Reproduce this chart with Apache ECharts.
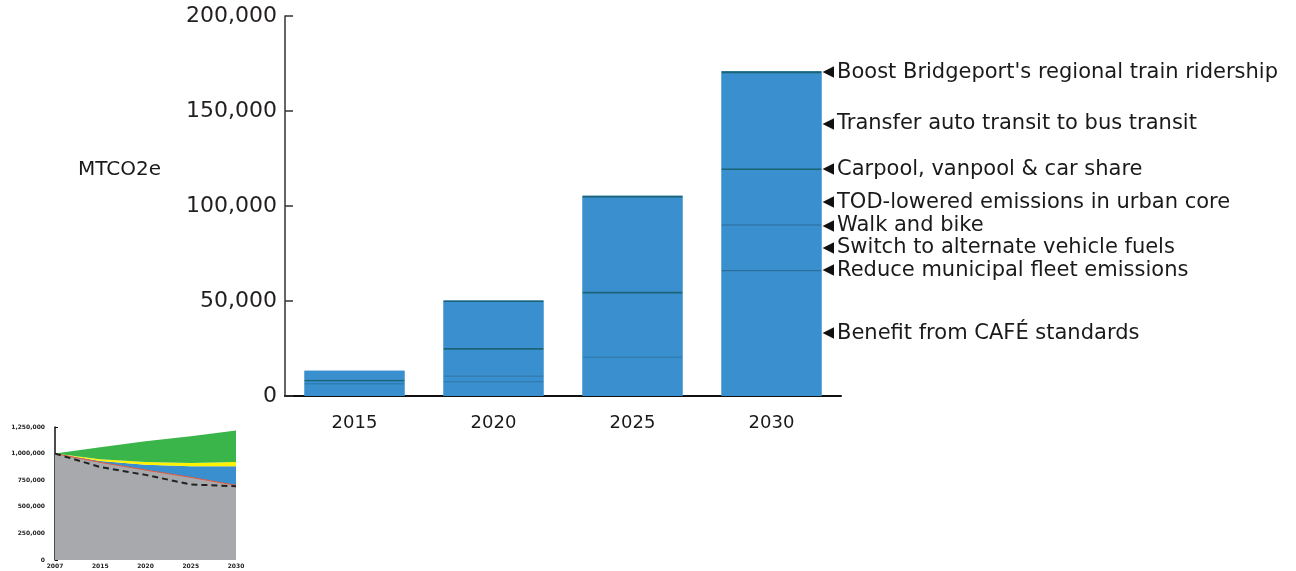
<!DOCTYPE html>
<html>
<head>
<meta charset="utf-8">
<script src="https://cdn.jsdelivr.net/npm/echarts@6/dist/echarts.min.js"></script>
<style>
html,body{margin:0;padding:0;background:#fff;}
#chart{width:1296px;height:571px;}
</style>
</head>
<body>
<div id="chart"></div>
<script>
// Main chart data (MTCO2e reductions, stacked bottom to top)
const years = ['2015', '2020', '2025', '2030'];
const seriesNames = [
  'Benefit from CAFÉ standards',
  'Reduce municipal fleet emissions',
  'Switch to alternate vehicle fuels',
  'Walk and bike',
  'TOD-lowered emissions in urban core',
  'Carpool, vanpool & car share',
  'Transfer auto transit to bus transit',
  "Boost Bridgeport's regional train ridership"
];
const cafe    = [6200, 7200, 20300, 65700];
const fleet   = [500, 500, 500, 600];
const fuels   = [1000, 2600, 17000, 23500];
const walk    = [0, 500, 0, 600];
const tod     = [0, 13500, 16200, 28500];
const carpool = [800, 1000, 1000, 1000];
const bus     = [4800, 24200, 49500, 50000];
const train   = [0, 800, 900, 1000];
const yTicks  = [0, 50000, 100000, 150000, 200000];

// Inset chart data (total emissions scenario)
const insetYears  = ['2007', '2015', '2020', '2025', '2030'];
const insetGrey   = [1000000, 918000, 846000, 777000, 702000];
const insetBlue   = [0, 12000, 50000, 103000, 178000];
const insetYellow = [0, 16000, 24000, 31000, 40000];
const insetGreen  = [0, 114000, 197000, 253000, 297000];
const insetDashed = [1000000, 874000, 800000, 710000, 693000];

const FONT = 'DejaVu Sans';
const BLUE = '#3a8fce';
const DARK = '#1b6478';
const MID = '#2a6f9c';

const seriesData = [cafe, fleet, fuels, walk, tod, carpool, bus, train];
const seriesColors = [BLUE, MID, BLUE, MID, BLUE, DARK, BLUE, DARK];
const labelOffsets = [[0,0],[0,0],[0,0],[0,1],[0,5],[0,0],[0,3],[0,0]];
const totals = years.map((_, j) => seriesData.reduce((s, arr) => s + arr[j], 0));

const barSeries = seriesNames.map((name, i) => ({
  name: name,
  type: 'bar',
  stack: 'total',
  xAxisIndex: 0,
  yAxisIndex: 0,
  barWidth: 100,
  barGap: '-100%',
  z: 3,
  itemStyle: { color: seriesColors[i], borderWidth: 0 },
  label: { show: false },
  data: seriesData[i].map((v, j) => {
    const val = v === 0 ? '-' : v;
    if (j === years.length - 1) {
      return {
        value: val,
        label: {
          show: true,
          position: 'right',
          distance: 1,
          offset: labelOffsets[i],
          formatter: '{t|◀}{s|' + name + '}',
          rich: {
            t: { fontSize: 15, color: '#111', fontFamily: FONT, padding: [0, 3, 0, 0] },
            s: { fontSize: 21, color: '#1a1a1a', fontFamily: FONT }
          }
        }
      };
    }
    return val;
  })
}));

// Backing column (sum of the stack) drawn behind the segments so no seams show
const backing = {
  name: 'Total',
  type: 'bar',
  xAxisIndex: 0,
  yAxisIndex: 0,
  barWidth: 100,
  barGap: '-100%',
  z: 1,
  silent: true,
  itemStyle: { color: BLUE },
  data: totals
};

const insetArea = (name, data, color, lineColor) => ({
  name: name,
  type: 'line',
  stack: 'inset',
  xAxisIndex: 1,
  yAxisIndex: 1,
  symbol: 'none',
  smooth: false,
  lineStyle: { width: lineColor ? 1 : 0, color: lineColor || color },
  areaStyle: { color: color, opacity: 1 },
  data: data
});

const option = {
  animation: false,
  backgroundColor: '#ffffff',
  title: {
    text: 'MTCO2e',
    left: 73,
    top: 155,
    textStyle: { fontFamily: FONT, fontSize: 20, fontWeight: 'normal', color: '#1a1a1a' }
  },
  grid: [
    { left: 285, top: 16, width: 556, height: 380, containLabel: false },
    { left: 55, top: 427, width: 181, height: 133, containLabel: false }
  ],
  xAxis: [
    {
      type: 'category',
      gridIndex: 0,
      data: years,
      axisLine: { lineStyle: { color: '#111', width: 2 } },
      axisTick: { show: false },
      axisLabel: { fontFamily: FONT, fontSize: 18, color: '#1a1a1a', margin: 18 }
    },
    {
      type: 'category',
      gridIndex: 1,
      data: insetYears,
      boundaryGap: false,
      axisLine: { show: false },
      axisTick: { show: false },
      axisLabel: { fontFamily: FONT, fontSize: 6, fontWeight: 'bold', color: '#222', margin: 3 }
    }
  ],
  yAxis: [
    {
      type: 'value',
      gridIndex: 0,
      min: 0,
      max: 200000,
      interval: 50000,
      axisLine: { show: true, lineStyle: { color: '#333', width: 1.5 } },
      axisTick: { show: true, inside: true, length: 8, lineStyle: { color: '#333', width: 1.5 } },
      splitLine: { show: false },
      axisLabel: {
        fontFamily: FONT, fontSize: 22, color: '#231f20', margin: 8,
        formatter: v => v.toLocaleString('en-US')
      }
    },
    {
      type: 'value',
      gridIndex: 1,
      min: 0,
      max: 1250000,
      interval: 250000,
      axisLine: { show: true, lineStyle: { color: '#111', width: 1.5 } },
      axisTick: { show: true, inside: true, length: 3, lineStyle: { color: '#111' } },
      splitLine: { show: false },
      axisLabel: {
        fontFamily: FONT, fontSize: 6, fontWeight: 'bold', color: '#222', margin: 10,
        formatter: v => v.toLocaleString('en-US')
      }
    }
  ],
  series: [backing].concat(barSeries).concat([
    insetArea('Inset base', insetGrey, '#a7a9ac', '#e0573a'),
    insetArea('Inset blue', insetBlue, BLUE),
    insetArea('Inset yellow', insetYellow, '#fff200'),
    insetArea('Inset green', insetGreen, '#39b54a'),
    {
      name: 'Inset target',
      type: 'line',
      xAxisIndex: 1,
      yAxisIndex: 1,
      symbol: 'none',
      z: 5,
      lineStyle: { color: '#222', width: 2, type: [6, 4] },
      data: insetDashed
    }
  ])
};

const chart = echarts.init(document.getElementById('chart'), null, { renderer: 'canvas' });
chart.setOption(option);
</script>
</body>
</html>
